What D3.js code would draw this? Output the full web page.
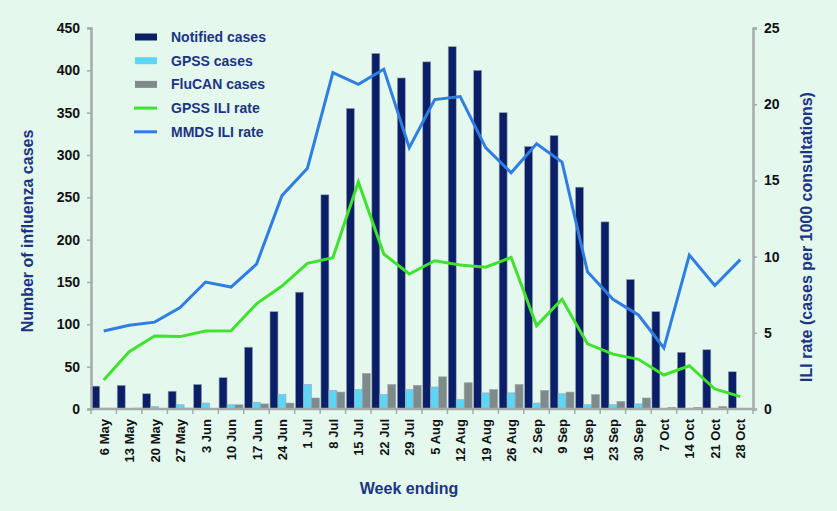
<!DOCTYPE html>
<html><head><meta charset="utf-8">
<script src="https://cdn.jsdelivr.net/npm/d3@7"></script>
<style>
html,body{margin:0;padding:0;background:#e4f8ee;}
svg{display:block;font-family:Arial,"Liberation Sans",sans-serif;}
</style></head><body>
<svg id="c" width="837" height="511"></svg>
<script>
const weeks = ["6 May","13 May","20 May","27 May","3 Jun","10 Jun","17 Jun","24 Jun","1 Jul","8 Jul","15 Jul","22 Jul","29 Jul","5 Aug","12 Aug","19 Aug","26 Aug","2 Sep","9 Sep","16 Sep","23 Sep","30 Sep","7 Oct","14 Oct","21 Oct","28 Oct"];
const notified = [27,28,18,21,29,37,73,115,138,253,355,420,391,410,428,400,350,310,323,262,221,153,115,67,70,44];
const gpssCases = [1,0,3,5,7,5,8,17,29,22,23,17,23,26,11,19,19,7,18,5,5,6,0,0,0,0];
const flucanCases = [1,1,0,1,0,5,6,7,13,20,42,29,28,38,31,23,29,22,20,17,9,13,2,2,3,0];
const gpssIli = [1.9,3.76,4.79,4.75,5.12,5.14,6.9,8.07,9.56,9.93,14.9,10.17,8.86,9.73,9.45,9.3,9.95,5.47,7.2,4.27,3.6,3.26,2.23,2.84,1.31,0.81];
const mmdsIli = [5.12,5.5,5.7,6.65,8.33,8.0,9.5,14.0,15.8,22.07,21.3,22.3,17.15,20.3,20.5,17.15,15.5,17.4,16.2,9.0,7.2,6.17,4.0,10.1,8.1,9.8];
const leftTicks = [0,50,100,150,200,250,300,350,400,450];
const rightTicks = [0,5,10,15,20,25];

const barSeries = [
  {name:"Notified cases", values:notified, color:"#0b1e68"},
  {name:"GPSS cases", values:gpssCases, color:"#5cd6f4"},
  {name:"FluCAN cases", values:flucanCases, color:"#7f8b8b"}
];
const lineSeries = [
  {name:"GPSS ILI rate", values:gpssIli, color:"#3fe22c"},
  {name:"MMDS ILI rate", values:mmdsIli, color:"#2f7ee2"}
];

const svg = d3.select("#c");
const L = 91, R = 753, T = 28, B = 409;
const navy = "#1b3583", axisCol = "#a3abab";

const x0 = d3.scaleBand().domain(weeks).range([L, R]).paddingInner(0.06).paddingOuter(0.03);
const x1 = d3.scaleBand().domain(barSeries.map(d=>d.name)).range([0, x0.bandwidth()]);
const yL = d3.scaleLinear().domain([0,450]).range([B,T]);
const yR = d3.scaleLinear().domain([0,25]).range([B,T]);
const xc = d => L + (R-L)/weeks.length*(weeks.indexOf(d)+0.5);

// bars
barSeries.forEach(s => {
  svg.append("g").selectAll("rect").data(weeks).join("rect")
    .attr("x", (w)=>x0(w)+x1(s.name))
    .attr("width", x1.bandwidth())
    .attr("y", (w,i)=>yL(s.values[i]))
    .attr("height", (w,i)=>B-yL(s.values[i]))
    .attr("fill", s.color)
    .attr("stroke", "#9aa6b0").attr("stroke-width", 0.6);
});

// lines
lineSeries.forEach(s => {
  const line = d3.line().x((v,i)=>xc(weeks[i])).y(v=>yR(v));
  svg.append("path").datum(s.values).attr("d", line)
    .attr("fill","none").attr("stroke", s.color).attr("stroke-width", 3)
    .attr("stroke-linejoin","miter");
});

// axes
const axL = svg.append("g").attr("transform",`translate(${L},0)`)
  .call(d3.axisLeft(yL).tickValues(leftTicks).tickSize(4).tickPadding(7));
const axR = svg.append("g").attr("transform",`translate(${R},0)`)
  .call(d3.axisRight(yR).tickValues(rightTicks).tickSize(4).tickPadding(7));
[axL, axR].forEach(a=>{
  a.select(".domain").attr("stroke", axisCol).attr("stroke-width", 2.5);
  a.selectAll(".tick line").attr("stroke", axisCol).attr("stroke-width", 1.5);
  a.selectAll(".tick text").attr("font-size", 14).attr("font-weight","bold").attr("fill","#111");
});

// x axis
const xa = svg.append("g").attr("transform",`translate(0,${B})`);
xa.append("line").attr("x1",L).attr("x2",R).attr("y1",0).attr("y2",0)
  .attr("stroke",axisCol).attr("stroke-width",2.5);
const bw = (R-L)/weeks.length;
xa.selectAll("line.t").data(d3.range(weeks.length+1)).join("line").attr("class","t")
  .attr("x1",i=>L+i*bw).attr("x2",i=>L+i*bw).attr("y1",0).attr("y2",5)
  .attr("stroke",axisCol).attr("stroke-width",1.5);
xa.selectAll("text").data(weeks).join("text")
  .attr("transform", w=>`translate(${xc(w)+5},10) rotate(-90)`)
  .attr("text-anchor","end")
  .attr("font-size",13).attr("font-weight","bold").attr("fill","#111")
  .text(w=>w);

// axis titles
svg.append("text").attr("transform",`translate(33,231) rotate(-90)`)
  .attr("text-anchor","middle").attr("font-size",16).attr("font-weight","bold").attr("fill",navy)
  .text("Number of influenza cases");
svg.append("text").attr("transform",`translate(812,237) rotate(-90)`)
  .attr("text-anchor","middle").attr("font-size",16).attr("font-weight","bold").attr("fill",navy)
  .text("ILI rate (cases per 1000 consultations)");
svg.append("text").attr("x",409).attr("y",494)
  .attr("text-anchor","middle").attr("font-size",16).attr("font-weight","bold").attr("fill",navy)
  .text("Week ending");

// legend
const legItems = barSeries.map(d=>({...d,type:"bar"})).concat(lineSeries.map(d=>({...d,type:"line"})));
const lg = svg.append("g");
legItems.forEach((d,i)=>{
  const yy = 37 + i*23.7;
  if (d.type==="bar") {
    lg.append("rect").attr("x",135).attr("y",yy-3.5).attr("width",22).attr("height",7).attr("fill",d.color);
  } else {
    lg.append("line").attr("x1",134).attr("x2",157).attr("y1",yy).attr("y2",yy).attr("stroke",d.color).attr("stroke-width",3);
  }
  lg.append("text").attr("x",171).attr("y",yy+5).attr("font-size",14).attr("font-weight","bold").attr("fill",navy).text(d.name);
});
</script>
</body></html>
